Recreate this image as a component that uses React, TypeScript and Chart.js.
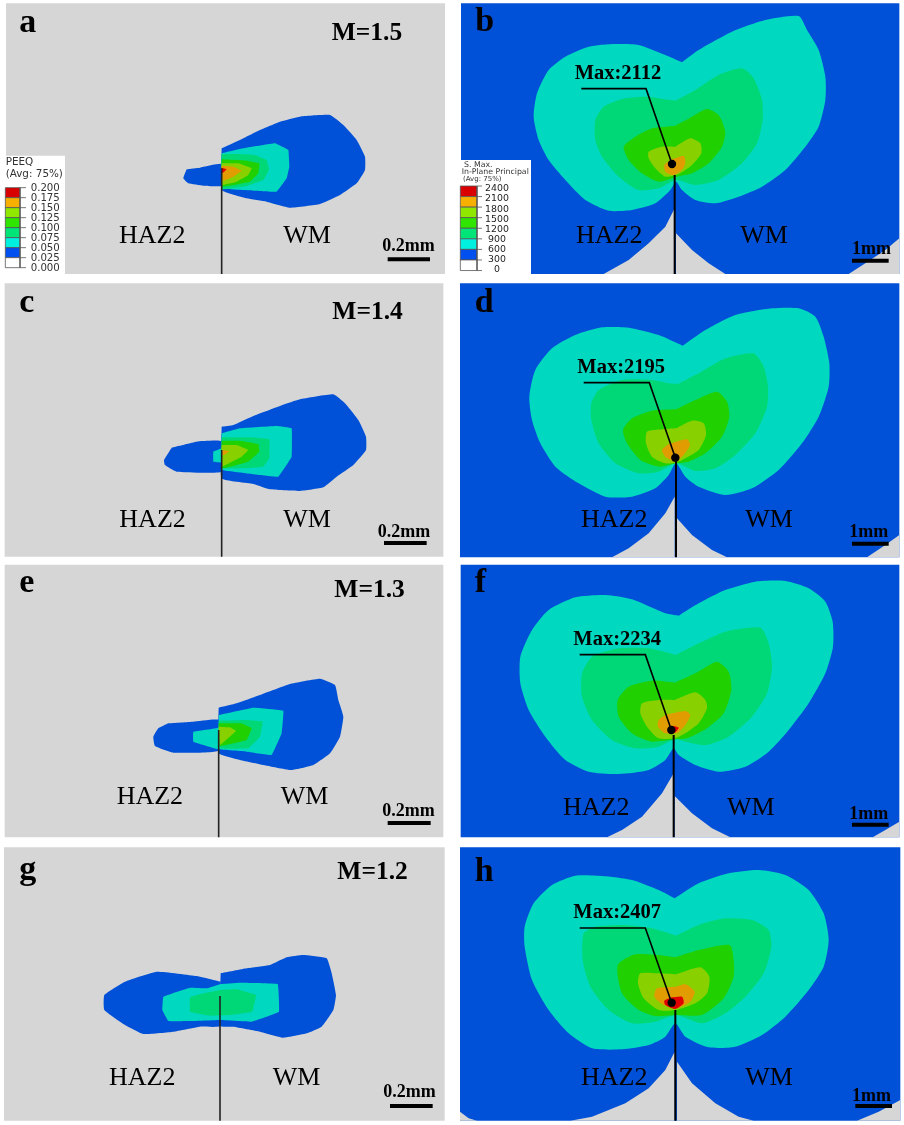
import { useEffect, useRef } from "react";
import { Chart, registerables } from "chart.js";

Chart.register(...registerables);

type P = number[][];

// ---- contour outlines (units: 1/3 px from each panel's origin) ----
const aBlueWM: P = [[665,445],[720,420],[780,390],[840,365],[900,350],[990,345],[1030,375],[1070,420],[1095,470],[1095,510],[1070,550],[1020,585],[960,612],[870,623],[800,605],[740,595],[665,570]];
const aBlueHAZ: P = [[560,508],[600,503],[665,492],[665,557],[610,557],[565,550],[550,535]];
const aTeal: P = [[665,460],[730,445],[825,430],[865,450],[868,500],[860,535],[830,575],[760,572],[665,565]];
const aMid: P = [[665,462],[720,462],[765,465],[800,480],[807,510],[790,540],[740,558],[665,568]];
const aGreen: P = [[665,478],[740,482],[778,490],[775,520],[750,545],[665,560]];
const aLime: P = [[665,490],[715,490],[755,505],[745,525],[710,545],[665,555]];
const aOrange: P = [[665,497],[700,500],[725,512],[700,530],[668,543],[665,520]];
const aRed: P = [[665,503],[680,508],[672,516],[665,520]];

const bGrayL: P = [[668,625],[640,680],[590,730],[530,780],[455,822],[668,822]];
const bGrayR: P = [[672,700],[720,750],[770,790],[820,822],[672,822]];
const bGrayC: P = [[1342,715],[1300,750],[1240,790],[1190,822],[1342,822]];
const bTeal: P = [[690,187],[740,150],[840,95],[940,60],[1040,48],[1065,90],[1100,150],[1120,230],[1120,300],[1100,380],[1060,440],[1000,510],[930,560],[860,590],[790,610],[730,600],[690,570],[672,545],[655,570],[610,610],[540,630],[470,632],[400,600],[340,540],[290,480],[260,420],[245,350],[255,280],[290,210],[340,170],[410,140],[490,132],[560,135],[640,165]];
const bMid: P = [[670,302],[730,270],[800,225],[870,205],[905,235],[930,300],[932,360],[915,430],[870,490],[800,540],[730,555],[672,540],[620,565],[560,570],[500,530],[450,470],[430,420],[430,360],[455,320],[520,295],[590,290],[640,298]];
const bGreen: P = [[670,377],[720,350],[765,327],[800,345],[820,395],[810,440],[770,490],[720,520],[675,530],[620,545],[570,520],[530,480],[515,440],[550,410],[600,385],[640,380]];
const bLime: P = [[670,440],[715,415],[745,430],[748,460],[720,495],[680,522],[640,530],[610,505],[590,475],[590,455],[630,440]];
const bOrange: P = [[660,478],[695,468],[700,490],[690,510],[665,525],[640,515],[637,495]];

const cBlueWM: P = [[665,440],[700,435],[760,408],[840,378],[900,358],[1000,343],[1035,370],[1075,420],[1098,470],[1098,510],[1060,555],[1010,590],[970,622],[900,633],[810,628],[760,612],[665,595]];
const cBlueHAZ: P = [[515,503],[590,485],[665,484],[665,575],[530,575],[495,555],[492,540]];
const cTeal: P = [[665,460],[720,445],[830,438],[875,445],[875,530],[835,590],[780,585],[665,570],[665,548],[640,545],[640,515],[665,505]];
const cMid: P = [[665,472],[750,472],[808,478],[808,535],[790,560],[730,565],[665,565]];
const cGreen: P = [[665,482],[720,482],[775,492],[778,515],[745,545],[690,560],[665,565]];
const cLime: P = [[665,495],[710,495],[745,510],[725,530],[690,548],[665,560]];
const cOrange: P = [[665,510],[688,513],[672,525],[665,525]];

const dGrayL: P = [[668,650],[640,700],[590,760],[530,805],[480,832],[668,832]];
const dGrayR: P = [[675,715],[720,765],[780,810],[825,832],[675,832]];
const dGrayC: P = [[1342,765],[1300,795],[1245,832],[1342,832]];
const dTeal: P = [[692,197],[760,150],[850,105],[960,85],[1040,85],[1090,110],[1115,170],[1132,250],[1130,320],[1100,410],[1050,490],[980,570],[900,625],[820,645],[740,620],[700,590],[672,550],[650,585],[610,625],[540,650],[460,650],[380,610],[310,560],[265,490],[240,420],[232,350],[250,270],[300,205],[370,165],[450,142],[530,143],[620,165]];
const dMid: P = [[678,312],[740,280],[820,235],[905,220],[935,260],[948,320],[945,380],[910,460],[850,525],[790,565],[730,573],[672,550],[620,575],[560,580],[490,550],[440,490],[418,420],[418,370],[440,330],[510,300],[600,300],[650,310]];
const dGreen: P = [[672,388],[730,360],[795,335],[825,365],[832,410],[810,470],[760,520],[710,545],[672,550],[620,560],[565,540],[525,490],[513,450],[540,415],[600,392]];
const dLime: P = [[672,445],[720,422],[755,430],[762,465],[740,510],[700,535],[672,548],[640,550],[600,530],[582,490],[585,455],[630,448]];
const dOrange: P = [[650,492],[705,478],[714,495],[695,525],[670,545],[640,530],[630,510]];

const eBlueWM: P = [[656,443],[710,430],[780,405],[870,372],[960,356],[1005,375],[1015,420],[1030,470],[1020,530],[990,580],[940,615],[875,630],[800,617],[720,600],[656,580]];
const eBlueHAZ: P = [[505,490],[580,485],[656,480],[656,572],[520,578],[465,558],[460,530],[475,505]];
const eTeal: P = [[656,465],[760,443],[850,452],[845,520],[815,585],[740,575],[656,568],[580,545],[580,515],[656,503]];
const eMid: P = [[656,482],[740,480],[788,485],[780,530],[745,565],[656,565]];
const eGreen: P = [[656,490],[725,490],[755,505],[740,540],[660,558]];
const eLime: P = [[656,500],[690,502],[708,513],[660,555]];

const fGrayL: P = [[665,640],[630,700],[570,770],[510,810],[465,832],[665,832]];
const fGrayR: P = [[668,708],[720,760],[780,805],[835,832],[668,832]];
const fGrayC: P = [[1342,785],[1300,810],[1262,832],[1342,832]];
const fTeal: P = [[680,167],[740,130],[820,90],[910,65],[1000,63],[1070,85],[1120,125],[1142,185],[1143,260],[1120,340],[1070,430],[1010,510],[950,575],[880,620],[800,635],[730,615],[680,585],[665,565],[640,600],[590,630],[500,642],[410,635],[340,600],[280,530],[230,450],[205,370],[205,290],[240,210],[290,150],[370,112],[460,105],[540,118],[640,160]];
const fMid: P = [[672,285],[740,250],[820,215],[925,203],[950,250],[960,320],[945,400],[900,470],[830,530],[760,555],[700,545],[668,538],[620,560],[550,565],[480,540],[420,480],[390,410],[390,340],[420,290],[500,265],[590,265]];
const fGreen: P = [[668,368],[730,340],[795,305],[830,335],[838,390],[815,460],[765,505],[705,535],[668,538],[600,545],[540,520],[500,470],[497,420],[530,380],[600,362]];
const fLime: P = [[668,420],[730,397],[760,420],[765,445],[740,490],[700,520],[668,535],[620,535],[585,500],[565,460],[570,430],[620,420]];
const fOrange: P = [[640,465],[700,453],[715,465],[700,495],[675,520],[640,520],[618,500],[620,480]];
const fRed: P = [[665,497],[680,503],[670,517],[662,518]];

const gBlueR: P = [[662,400],[740,385],[810,375],[860,352],[910,345],[980,355],[995,400],[1008,465],[1000,510],[965,560],[920,580],[850,593],[780,575],[700,560],[660,558]];
const gBlueL: P = [[662,425],[590,408],[470,395],[375,425],[313,465],[313,510],[375,555],[430,582],[520,575],[600,560],[660,558]];
const gTeal: P = [[662,432],[720,428],[833,432],[837,515],[755,545],[660,540],[580,543],[505,543],[487,510],[490,470],[570,443],[620,445]];
const gMid: P = [[662,450],[710,448],[768,465],[757,515],[690,525],[630,527],[570,515],[570,472],[610,460]];

const hGrayL: P = [[668,635],[640,690],[590,745],[520,790],[420,830],[355,842],[668,842]];
const hGrayR: P = [[675,665],[720,730],[790,790],[860,830],[905,842],[675,842]];
const hGrayC: P = [[1345,780],[1280,815],[1215,842],[1345,842]];
const hGrayD: P = [[24,815],[50,835],[75,842],[24,842]];
const hTeal: P = [[668,175],[740,130],[830,100],[920,90],[1000,105],[1070,150],[1115,220],[1130,300],[1115,380],[1070,450],[1000,530],[930,585],[850,620],[770,622],[700,590],[670,550],[640,590],[590,615],[510,628],[420,625],[350,580],[290,510],[240,420],[218,320],[218,260],[245,190],[300,135],[370,107],[450,108],[540,120],[620,150]];
const hMid: P = [[672,287],[740,255],[820,235],[900,240],[950,270],[958,320],[935,400],[880,470],[820,520],[750,550],[672,525],[610,545],[540,550],[470,510],[415,440],[392,360],[395,280],[430,260],[520,255],[600,265]];
const hGreen: P = [[670,352],[740,330],[833,315],[845,360],[845,410],[815,475],[750,525],[672,525],[610,528],[560,510],[510,460],[497,375],[550,343],[620,345]];
const hLime: P = [[672,403],[745,382],[772,410],[765,460],[730,490],[672,510],[620,510],[575,475],[558,430],[565,400],[620,400]];
const hOrange: P = [[672,440],[700,433],[728,455],[715,485],[672,505],[635,495],[607,470],[615,445]];
const hRed: P = [[660,472],[690,470],[695,490],[670,507],[640,495],[637,482]];

// ---- text ----
const panelLetters = ["a", "b", "c", "d", "e", "f", "g", "h"];
const mLabels = ["M=1.5", "M=1.4", "M=1.3", "M=1.2"];
const maxLabels = ["Max:2112", "Max:2195", "Max:2234", "Max:2407"];
const peeqTicks = ["0.200", "0.175", "0.150", "0.125", "0.100", "0.075", "0.050", "0.025", "0.000"];
const stressTicks = ["2400", "2100", "1800", "1500", "1200", "900", "600", "300", "0"];
const scaleLeft = "0.2mm";
const scaleRight = "1mm";

const BLUE = "#0050d8", TEAL = "#00d8c0", MID = "#00d878", GREEN = "#20d000", LIME = "#88d000", ORANGE = "#e09c00", RED = "#e00000", GRAY = "#d6d6d6";
const legendColors = ["#d80000", "#f8b000", "#90e800", "#2ee600", "#00e478", "#00f0e0", "#0050f0", "#ffffff"];
const SERIF = '"Liberation Serif"';
const SANS = '"DejaVu Sans"';

const origin = (i: number) => [i % 2 ? 452 : 0, [0, 280, 560, 840][Math.floor(i / 2)]];

type Txt = { t: string; x: number; y: number; font: string; color?: string; align?: CanvasTextAlign };

function build() {
  const sets: any[] = [];
  const texts: Txt[] = [];
  const map = (i: number, pts: P) => {
    const [ox, oy] = origin(i);
    return pts.map(([x, y]) => ({ x: ox + x / 3, y: oy + y / 3 }));
  };
  const poly = (i: number, pts: P, color: string, tension = 0.25, border = "transparent", bw = 0) => {
    const d = map(i, pts);
    sets.push({ data: [...d, d[0]], backgroundColor: color, borderColor: border, borderWidth: bw, fill: "shape", showLine: true, tension, pointRadius: 0, cubicInterpolationMode: "default" });
  };
  const line = (i: number, pts: P, color: string, w: number) => {
    sets.push({ data: map(i, pts), borderColor: color, borderWidth: w, fill: false, showLine: true, tension: 0, pointRadius: 0 });
  };
  const dot = (i: number, pt: number[]) => {
    sets.push({ data: map(i, [pt]), showLine: false, pointRadius: 4.2, pointBackgroundColor: "#000", pointBorderWidth: 0 });
  };
  const rect = (i: number, x0: number, y0: number, x1: number, y1: number, color: string, border = "transparent", bw = 0) =>
    poly(i, [[x0, y0], [x1, y0], [x1, y1], [x0, y1]], color, 0, border, bw);
  const text = (i: number, t: string, x: number, y: number, font: string, color = "#000", align: CanvasTextAlign = "left") => {
    const [ox, oy] = origin(i);
    texts.push({ t, x: ox + x / 3, y: oy + y / 3, font, color, align });
  };

  // ---- left panels (PEEQ) ----
  const leftBg = [[18, 10, 1335, 822], [14, 10, 1330, 830], [14, 14, 1330, 832], [12, 22, 1334, 842]];
  const leftShapes: [P, string][][] = [
    [[aBlueWM, BLUE], [aBlueHAZ, BLUE], [aTeal, TEAL], [aMid, MID], [aGreen, GREEN], [aLime, LIME], [aOrange, ORANGE], [aRed, RED]],
    [[cBlueWM, BLUE], [cBlueHAZ, BLUE], [cTeal, TEAL], [cMid, MID], [cGreen, GREEN], [cLime, LIME], [cOrange, ORANGE]],
    [[eBlueWM, BLUE], [eBlueHAZ, BLUE], [eTeal, TEAL], [eMid, MID], [eGreen, GREEN], [eLime, LIME]],
    [[gBlueR, BLUE], [gBlueL, BLUE], [gTeal, TEAL], [gMid, MID]],
  ];
  const leftCrack = [[665, 505, 822], [665, 510, 830], [656, 510, 832], [660, 468, 842]];
  const leftText = [
    { l: [58, 95], m: [995, 120], h: [357, 728], w: [850, 728], s: [1147, 752], b: [1163, 1290, 778] },
    { l: [58, 95], m: [997, 118], h: [358, 742], w: [850, 742], s: [1133, 770], b: [1152, 1280, 789] },
    { l: [58, 95], m: [1003, 110], h: [350, 733], w: [842, 733], s: [1147, 768], b: [1163, 1292, 789] },
    { l: [58, 118], m: [1012, 117], h: [327, 735], w: [818, 735], s: [1150, 771], b: [1170, 1298, 798] },
  ];
  // ---- right panels (stress) ----
  const rightBg = [[27, 10, 1342, 822], [24, 10, 1342, 832], [26, 14, 1342, 832], [24, 22, 1345, 842]];
  const rightShapes: [P, string][][] = [
    [[bGrayL, GRAY], [bGrayR, GRAY], [bGrayC, GRAY], [bTeal, TEAL], [bMid, MID], [bGreen, GREEN], [bLime, LIME], [bOrange, ORANGE]],
    [[dGrayL, GRAY], [dGrayR, GRAY], [dGrayC, GRAY], [dTeal, TEAL], [dMid, MID], [dGreen, GREEN], [dLime, LIME], [dOrange, ORANGE]],
    [[fGrayL, GRAY], [fGrayR, GRAY], [fGrayC, GRAY], [fTeal, TEAL], [fMid, MID], [fGreen, GREEN], [fLime, LIME], [fOrange, ORANGE], [fRed, RED]],
    [[hGrayL, GRAY], [hGrayR, GRAY], [hGrayC, GRAY], [hGrayD, GRAY], [hTeal, TEAL], [hMid, MID], [hGreen, GREEN], [hLime, LIME], [hOrange, ORANGE], [hRed, RED]],
  ];
  const rightLeader = [
    { a: [388, 266], k: [582, 266], e: [660, 492], c: [668, 525, 822] },
    { a: [395, 308], k: [592, 308], e: [670, 533], c: [672, 540, 832] },
    { a: [383, 284], k: [580, 284], e: [658, 510], c: [665, 525, 832] },
    { a: [383, 264], k: [580, 264], e: [659, 488], c: [670, 510, 842] },
  ];
  const rightText = [
    { l: [70, 93], m: [368, 238], h: [372, 728], w: [865, 728], s: [1200, 762], b: [1200, 1310, 782] },
    { l: [68, 97], m: [376, 280], h: [387, 740], w: [880, 740], s: [1192, 772], b: [1200, 1310, 791] },
    { l: [68, 97], m: [364, 256], h: [333, 765], w: [825, 765], s: [1192, 778], b: [1200, 1310, 794] },
    { l: [68, 122], m: [364, 235], h: [387, 735], w: [880, 735], s: [1200, 782], b: [1210, 1320, 798] },
  ];

  const LETTER = `bold 34px ${SERIF}`, BIG = `bold 25.5px ${SERIF}`, MAX = `bold 20.5px ${SERIF}`, LAB = `26px ${SERIF}`, SC = `bold 18px ${SERIF}`;

  for (let r = 0; r < 4; r++) {
    const li = r * 2, ri = r * 2 + 1;
    const lb = leftBg[r];
    rect(li, lb[0], lb[1], lb[2], lb[3], GRAY);
    leftShapes[r].forEach(([p, c]) => poly(li, p, c, c === BLUE ? 0.12 : 0.05));
    const lc = leftCrack[r];
    line(li, [[lc[0], lc[1]], [lc[0], lc[2]]], "#222", 1.6);
    const lt = leftText[r];
    line(li, [[lt.b[0], lt.b[2]], [lt.b[1], lt.b[2]]], "#000", 4);
    text(li, panelLetters[li], lt.l[0], lt.l[1], LETTER);
    text(li, mLabels[r], lt.m[0], lt.m[1], BIG);
    text(li, "HAZ2", lt.h[0], lt.h[1], LAB);
    text(li, "WM", lt.w[0], lt.w[1], LAB);
    text(li, scaleLeft, lt.s[0], lt.s[1], SC);

    const rb = rightBg[r];
    rect(ri, rb[0], rb[1], rb[2], rb[3], BLUE);
    rightShapes[r].forEach(([p, c]) => poly(ri, p, c, c === GRAY ? 0 : 0.22));
    const ld = rightLeader[r];
    line(ri, [ld.a, ld.k, ld.e], "#000", 1.6);
    line(ri, [[ld.c[0], ld.c[1]], [ld.c[0], ld.c[2]]], "#000", 2);
    dot(ri, ld.e);
    const rt = rightText[r];
    line(ri, [[rt.b[0], rt.b[2]], [rt.b[1], rt.b[2]]], "#000", 4);
    text(ri, panelLetters[ri], rt.l[0], rt.l[1], LETTER);
    text(ri, maxLabels[r], rt.m[0], rt.m[1], MAX);
    text(ri, "HAZ2", rt.h[0], rt.h[1], LAB);
    text(ri, "WM", rt.w[0], rt.w[1], LAB);
    text(ri, scaleRight, rt.s[0], rt.s[1], SC);
  }

  // ---- legends ----
  rect(0, 0, 467, 195, 822, "#ffffff");
  legendColors.forEach((c, k) => rect(0, 16, 563 + 30 * k, 60, 593 + 30 * k, c, "#555", 0.8));
  peeqTicks.forEach((t, k) => {
    line(0, [[60, 563 + 30 * k], [78, 563 + 30 * k]], "#555", 0.8);
    text(0, t, 92, 572 + 30.3 * k, `10.2px ${SANS}`, "#333");
  });
  text(0, "PEEQ", 17, 495, `10.4px ${SANS}`, "#333");
  text(0, "(Avg: 75%)", 17, 531, `10.4px ${SANS}`, "#333");

  rect(1, 27, 480, 237, 822, "#ffffff");
  legendColors.forEach((c, k) => rect(1, 25, 558 + 31.7 * k, 75, 558 + 31.7 * (k + 1), c, "#555", 0.8));
  stressTicks.forEach((t, k) => {
    line(1, [[75, 558 + 31.7 * k], [90, 558 + 31.7 * k]], "#555", 0.8);
    text(1, t, 135, 574 + 30.3 * k, `9.4px ${SANS}`, "#222", "center");
  });
  text(1, "S. Max.", 36, 501, `7.8px ${SANS}`, "#333");
  text(1, "In-Plane Principal", 29, 523, `7.8px ${SANS}`, "#333");
  text(1, "(Avg: 75%)", 33, 544, `7px ${SANS}`, "#333");

  return { sets, texts };
}

export default function App() {
  const ref = useRef<HTMLCanvasElement>(null);
  useEffect(() => {
    const { sets, texts } = build();
    const labels = {
      id: "panelText",
      afterDatasetsDraw(chart: Chart) {
        const ctx = chart.ctx;
        ctx.save();
        ctx.textBaseline = "alphabetic";
        texts.forEach((t) => {
          ctx.font = t.font;
          ctx.fillStyle = t.color || "#000";
          ctx.textAlign = t.align || "left";
          ctx.fillText(t.t, t.x, t.y);
        });
        ctx.restore();
      },
    };
    const chart = new Chart(ref.current!, {
      type: "scatter",
      // Chart.js paints the first dataset last, so the list is reversed to paint in build order.
      data: { datasets: sets.reverse() },
      options: {
        animation: false,
        responsive: false,
        layout: { padding: 0, autoPadding: false },
        plugins: { legend: { display: false }, tooltip: { enabled: false } },
        elements: { line: { capBezierPoints: false } },
        scales: {
          x: { type: "linear", min: 0, max: 904, display: false },
          y: { type: "linear", min: 0, max: 1125, reverse: true, display: false },
        },
      },
      plugins: [labels],
    } as any);
    return () => chart.destroy();
  }, []);
  return (
    <div style={{ position: "absolute", left: 0, top: 0, width: 904, height: 1125, background: "#fff" }}>
      <canvas ref={ref} width={904} height={1125} style={{ display: "block", width: 904, height: 1125, filter: "blur(0.3px)" }} />
    </div>
  );
}
